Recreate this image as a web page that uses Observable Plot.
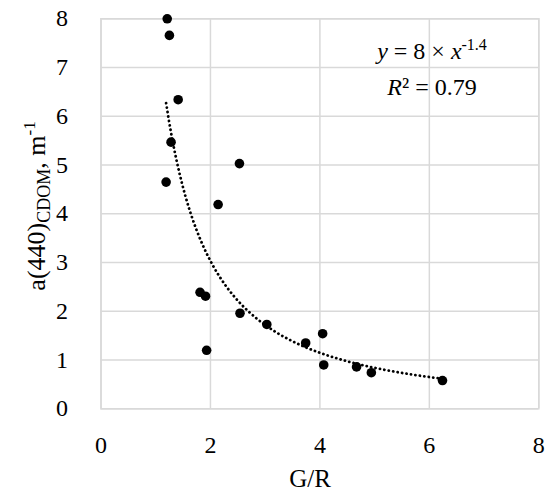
<!DOCTYPE html>
<html>
<head>
<meta charset="utf-8">
<script src="https://cdn.jsdelivr.net/npm/d3@7"></script>
<script src="https://cdn.jsdelivr.net/npm/@observablehq/plot@0.6"></script>
<style>
  html, body { margin: 0; padding: 0; background: #fff; }
  #chart { width: 550px; height: 494px; }
  #chart svg text { font-family: "Liberation Serif", serif !important; }
</style>
</head>
<body>
<div id="chart"></div>
<script>
// Data
const gr   = [1.21, 1.25, 1.41, 1.28, 2.53, 1.19, 2.14, 1.81, 1.91, 1.93, 2.54, 3.03, 3.74, 4.05, 4.07, 4.67, 4.94, 6.24];
const acdom = [8.00, 7.66, 6.34, 5.47, 5.03, 4.65, 4.19, 2.39, 2.31, 1.20, 1.96, 1.73, 1.35, 1.54, 0.90, 0.86, 0.74, 0.58];
const xTicks = [0, 2, 4, 6, 8];
const yTicks = [0, 1, 2, 3, 4, 5, 6, 7, 8];
// Power trendline stated in the chart: y = 8 × x^-1.4, R² = 0.79
const trendA = 8;
const trendB = -1.4;
const trendR2 = "0.79";

const points = gr.map((x, i) => ({x, y: acdom[i]}));
const xMin = d3.min(gr), xMax = d3.max(gr);
const trend = d3.range(0, 101).map(i => {
  const x = xMin + (xMax - xMin) * i / 100;
  return {x, y: trendA * Math.pow(x, trendB)};
});

const font = "Liberation Serif";
const grid = "#d9d9d9";

const chart = Plot.plot({
  width: 550,
  height: 494,
  marginLeft: 100.5,
  marginRight: 11.7,
  marginTop: 18.3,
  marginBottom: 85.7,
  style: {fontFamily: font, fontSize: "24px", color: "#000", background: "#fff"},
  x: {domain: [0, 8], ticks: xTicks, label: null},
  y: {domain: [0, 8], ticks: yTicks, label: null},
  marks: [
    Plot.gridX(xTicks, {stroke: grid, strokeOpacity: 1, strokeWidth: 1.5}),
    Plot.gridY(yTicks, {stroke: grid, strokeOpacity: 1, strokeWidth: 1.5}),
    Plot.frame({stroke: grid, strokeWidth: 1.5}),
    Plot.axisX(xTicks, {tickSize: 0, tickPadding: 27, fontSize: 24, fontFamily: font, fill: "#000"}),
    Plot.axisY(yTicks, {tickSize: 0, tickPadding: 33, fontSize: 24, fontFamily: font, fill: "#000"}),
    Plot.line(trend, {x: "x", y: "y", stroke: "#000", strokeWidth: 2.8, strokeDasharray: "0.1 4.4", strokeLinecap: "round"}),
    Plot.dot(points, {x: "x", y: "y", r: 4.8, fill: "#000", stroke: "none"})
  ]
});

document.getElementById("chart").appendChild(chart);

const svg = d3.select(chart);

// x axis title
svg.append("text")
  .attr("x", 310).attr("y", 487)
  .attr("text-anchor", "middle")
  .attr("font-size", 25)
  .text("G/R");

// y axis title with subscript / superscript
const yl = svg.append("text")
  .attr("transform", "translate(45,206) rotate(-90)")
  .attr("text-anchor", "middle")
  .attr("font-size", 26);
yl.append("tspan").text("a(440)");
yl.append("tspan").attr("font-size", 18).attr("dy", 5).text("CDOM");
yl.append("tspan").attr("dy", -5).text(", m");
yl.append("tspan").attr("font-size", 17).attr("dy", -10).text("-1");

// equation annotation
const eq = svg.append("text")
  .attr("x", 432).attr("y", 59)
  .attr("text-anchor", "middle")
  .attr("font-size", 24);
eq.append("tspan").attr("font-style", "italic").text("y");
eq.append("tspan").text(" = " + trendA + " × ");
eq.append("tspan").attr("font-style", "italic").text("x");
eq.append("tspan").attr("font-size", 16).attr("dy", -9).text(String(trendB));

const r2 = svg.append("text")
  .attr("x", 432).attr("y", 95)
  .attr("text-anchor", "middle")
  .attr("font-size", 24);
r2.append("tspan").attr("font-style", "italic").text("R");
r2.append("tspan").text("² = " + trendR2);
</script>
</body>
</html>
